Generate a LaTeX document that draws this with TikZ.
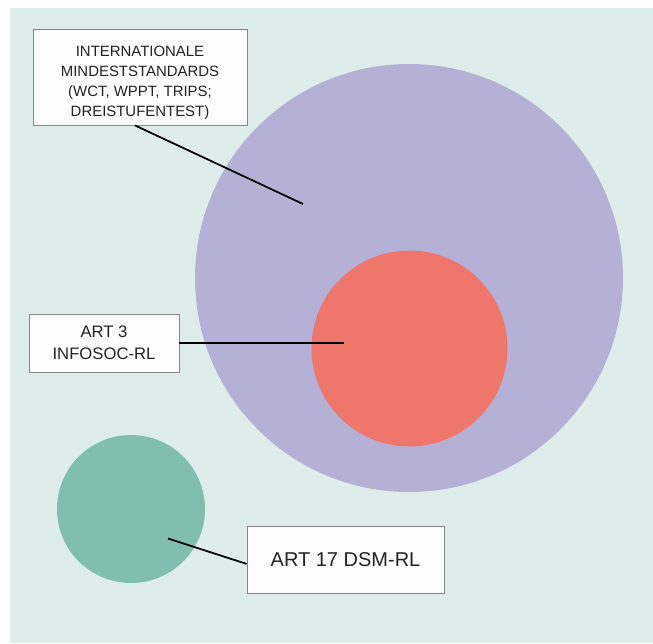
\documentclass[tikz,border=0pt]{standalone}
\usepackage{fontspec}
\setmainfont{Liberation Sans}
\definecolor{bgmint}{HTML}{DEEDE9}
\definecolor{lavender}{HTML}{B5B1D6}
\definecolor{coral}{HTML}{EE766A}
\definecolor{seagreen}{HTML}{80BFAF}
\definecolor{boxedge}{HTML}{858585}
\definecolor{boxfill}{HTML}{FDFDFD}
\definecolor{inktext}{HTML}{222222}
\begin{document}
\begin{tikzpicture}[x=0.75pt,y=-0.75pt,
  lbl/.style={draw=boxedge, line width=0.6pt, fill=boxfill, text=inktext,
    align=center, inner sep=0pt, rectangle},
  conn/.style={draw=black, line width=1.3pt}]
\useasboundingbox (0,0) rectangle (653,643);
\fill[bgmint] (10,8) rectangle (653,643);
% circles
\fill[lavender] (409,278) circle[radius=160.5pt];
\fill[coral] (409.5,348.5) circle[radius=73.5pt];
\fill[seagreen] (131,509) circle[radius=55.5pt];
% label boxes
\node[lbl, minimum width=160.5pt, minimum height=72pt,
  font=\fontsize{11.2}{15}\selectfont] (intl) at (140,77)
  {\rule{0pt}{16pt}INTERNATIONALE\\MINDESTSTANDARDS\\(WCT, WPPT, TRIPS;\\DREISTUFENTEST)};
\node[lbl, minimum width=112.5pt, minimum height=43.5pt,
  font=\fontsize{12.5}{16.3}\selectfont] (art3) at (104,343)
  {ART 3\\INFOSOC-RL};
\node[lbl, minimum width=147.75pt, minimum height=50.25pt,
  font=\fontsize{15}{18}\selectfont] (art17) at (345.5,559.5)
  {ART 17 DSM-RL};
% connector end points
\coordinate (p1) at (303,204);
\coordinate (p2) at (344,343);
\coordinate (p3) at (168,538.5);
\draw[conn] ([xshift=-3.75pt]intl.south) -- (p1);
\draw[conn] (art3.east) -- (p2);
\draw[conn] (p3) -- ([yshift=-3.3pt]art17.west);
\end{tikzpicture}
\end{document}
